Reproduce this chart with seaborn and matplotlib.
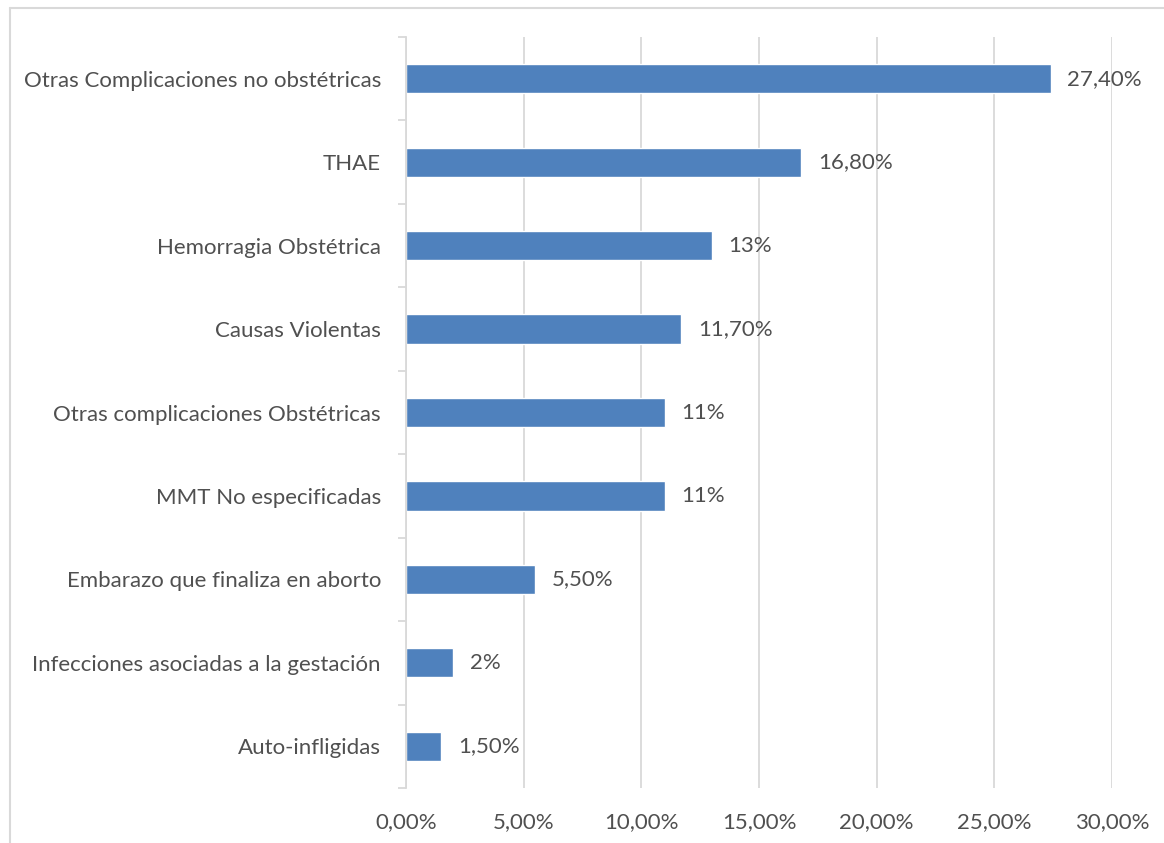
import matplotlib
matplotlib.use("Agg")
import matplotlib.pyplot as plt
from matplotlib.lines import Line2D
from matplotlib.ticker import FixedLocator
import seaborn as sns
import pandas as pd

categories = [
    "Otras Complicaciones no obstétricas",
    "THAE",
    "Hemorragia Obstétrica",
    "Causas Violentas",
    "Otras complicaciones Obstétricas",
    "MMT No especificadas",
    "Embarazo que finaliza en aborto",
    "Infecciones asociadas a la gestación",
    "Auto-infligidas",
]
values = [27.4, 16.8, 13.0, 11.7, 11.0, 11.0, 5.5, 2.0, 1.5]
value_labels = ["27,40%", "16,80%", "13%", "11,70%", "11%", "11%", "5,50%", "2%", "1,50%"]
x_ticks = [0, 5, 10, 15, 20, 25, 30]
x_tick_labels = ["0,00%", "5,00%", "10,00%", "15,00%", "20,00%", "25,00%", "30,00%"]

df = pd.DataFrame({"causa": categories, "pct": values})

sns.set_theme(style="white")
plt.rcParams["font.family"] = ["Lato", "DejaVu Sans"]

text_color = "#505050"
grid_color = "#d9d9d9"
bar_color = "#4f81bd"
fs = 16

fig = plt.figure(figsize=(11.64, 8.43), dpi=100)
ax = fig.add_axes([406 / 1164, 1 - 788 / 843, (1112 - 406) / 1164, (788 - 37) / 843])

sns.barplot(data=df, x="pct", y="causa", orient="h", color=bar_color,
            width=0.35, saturation=1, ax=ax, zorder=3)

ax.set_xlim(0, 30)
ax.set_ylim(len(categories) - 0.5, -0.5)
ax.set_xlabel("")
ax.set_ylabel("")

# vertical gridlines
ax.xaxis.set_major_locator(FixedLocator(x_ticks))
ax.set_xticklabels(x_tick_labels)
ax.grid(axis="x", color=grid_color, linewidth=1.3, zorder=0)
ax.grid(axis="y", visible=False)

for side in ["top", "right", "bottom"]:
    ax.spines[side].set_visible(False)
ax.spines["left"].set_color(grid_color)
ax.spines["left"].set_linewidth(1.3)
ax.spines["left"].set_zorder(4)

ax.tick_params(axis="x", length=0, pad=17, labelsize=fs, labelcolor=text_color)
ax.tick_params(axis="y", which="major", length=0, pad=18, labelsize=fs, labelcolor=text_color)
ax.yaxis.set_minor_locator(FixedLocator([i - 0.5 for i in range(len(categories) + 1)]))
ax.tick_params(axis="y", which="minor", length=6, width=1.3, color=grid_color, left=True)

# value labels at the end of each bar
for i, (v, lab) in enumerate(zip(values, value_labels)):
    ax.annotate(lab, xy=(v, i), xytext=(12, 0), textcoords="offset points",
                ha="left", va="center", fontsize=fs, color=text_color, zorder=5)

# chart area border
fig.add_artist(Line2D([10 / 1164, 10 / 1164], [0, 1 - 8 / 843],
                      transform=fig.transFigure, color=grid_color, linewidth=1.5))
fig.add_artist(Line2D([10 / 1164, 1], [1 - 8 / 843, 1 - 8 / 843],
                      transform=fig.transFigure, color=grid_color, linewidth=1.5))

fig.savefig("out.png", dpi=100, facecolor="white")
